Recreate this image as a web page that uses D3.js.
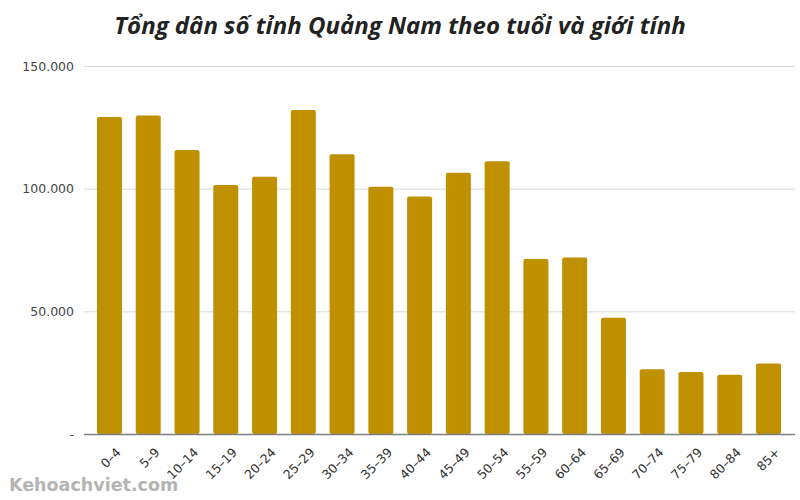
<!DOCTYPE html>
<html><head><meta charset="utf-8">
<script src="https://cdn.jsdelivr.net/npm/d3@7"></script>
<style>body{margin:0;background:#fff}svg{display:block}</style>
</head><body>
<svg id="c" width="800" height="500"></svg>
<script>
const categories = ["0–4","5–9","10–14","15–19","20–24","25–29","30–34","35–39","40–44","45–49","50–54","55–59","60–64","65–69","70–74","75–79","80–84","85+"];
const values = [129200,129800,115800,101500,104900,132100,114000,100800,96800,106500,111200,71300,71900,47400,26400,25300,24200,28700];
const yTicks = [0,50000,100000,150000];
const title = "Tổng dân số tỉnh Quảng Nam theo tuổi và giới tính";
const watermark = "Kehoachviet.com";

const svg = d3.select("#c");
const x = d3.scaleBand().domain(categories).range([90, 788]).paddingInner(0.355).paddingOuter(0.18);
const y = d3.scaleLinear().domain([0,150000]).range([434, 66]);
const fmt = v => v === 0 ? "-" : d3.format(",")(v).replace(/,/g, ".");

svg.append("text").attr("x", 400).attr("y", 34).attr("text-anchor","middle")
  .attr("font-family","'Open Sans', sans-serif").attr("font-style","italic").attr("font-weight","bold")
  .attr("font-size", 24).attr("fill","#222").text(title);

const ga = svg.append("g").attr("transform","translate(84,0)")
  .call(d3.axisLeft(y).tickValues(yTicks).tickSize(-711).tickFormat(fmt).tickPadding(10));
ga.select(".domain").remove();
ga.selectAll(".tick line").attr("stroke","#d9d9d9").attr("stroke-width",1);
ga.selectAll(".tick text").attr("font-family","'DejaVu Sans', sans-serif").attr("font-size",12.5).attr("fill","#444");

svg.append("g").selectAll("rect").data(values).join("rect")
  .attr("x",(d,i)=>x(categories[i])).attr("width",x.bandwidth())
  .attr("y",d=>y(d)).attr("height",d=>y(0)-y(d))
  .attr("rx",2).attr("fill","#BF9000");

const gx = svg.append("g").attr("transform","translate(0,434)").call(d3.axisBottom(x).tickSize(0));
gx.select(".domain").attr("d","M84,0.5H795").attr("stroke","#7f7f7f").attr("stroke-width",1.5);
gx.selectAll(".tick text").attr("font-family","'DejaVu Sans', sans-serif").attr("font-size",12.5).attr("fill","#333")
  .attr("text-anchor","end").attr("y",0).attr("dy","0.7em").attr("transform","translate(6,13) rotate(-45)");

svg.append("text").attr("x",9).attr("y",491).attr("font-family","'DejaVu Sans', sans-serif").attr("font-weight","bold")
  .attr("font-size",17.5).attr("fill","#b4b4b4").text(watermark);
</script>
</body></html>
